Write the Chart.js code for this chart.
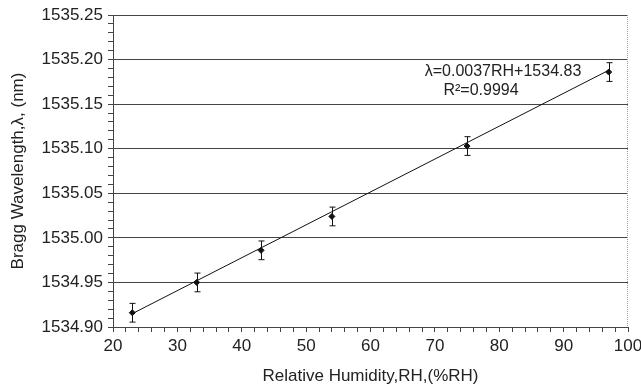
<!DOCTYPE html>
<html>
<head>
<meta charset="utf-8">
<script src="https://cdn.jsdelivr.net/npm/chart.js@4"></script>
<style>
  html, body { margin: 0; padding: 0; background: #fff; }
  #wrap { width: 641px; height: 387px; }
</style>
</head>
<body>
<div id="wrap"><canvas id="chart" width="641" height="387"></canvas></div>
<script>
// measured points
const humidity = [23, 33, 43, 54, 75, 97];
const wavelength = [1534.916, 1534.950, 1534.986, 1535.024, 1535.103, 1535.186];
const errorBar = [0.0105, 0.0105, 0.0105, 0.0105, 0.0105, 0.0105];

// linear fit line end points
const fitX = [23, 97];
const fitY = [1534.915, 1535.188];

const fitText = 'λ=0.0037RH+1534.83';
const r2Text = 'R²=0.9994';

const FONT = '"Liberation Sans", Arial, Helvetica, sans-serif';
const TEXT = '#222';

const isMajorY = v => Math.round(v * 100) % 5 === 0;
const isMajorX = v => Math.round(v) % 10 === 0;

// error bars, frame and the fit equation
const extras = {
    id: 'extras',
    afterDatasetsDraw(chart) {
        const ctx = chart.ctx;
        const xs = chart.scales.x, ys = chart.scales.y;
        const area = chart.chartArea;
        ctx.save();
        ctx.strokeStyle = '#111';
        ctx.lineWidth = 1;
        humidity.forEach((h, i) => {
            const px = Math.round(xs.getPixelForValue(h)) + 0.5;
            const top = ys.getPixelForValue(wavelength[i] + errorBar[i]);
            const bot = ys.getPixelForValue(wavelength[i] - errorBar[i]);
            ctx.beginPath();
            ctx.moveTo(px, top); ctx.lineTo(px, bot);
            ctx.moveTo(px - 3, top); ctx.lineTo(px + 3, top);
            ctx.moveTo(px - 3, bot); ctx.lineTo(px + 3, bot);
            ctx.stroke();
        });
        // right side of the frame
        ctx.strokeStyle = '#999';
        ctx.setLineDash([1, 1]);
        ctx.beginPath();
        ctx.moveTo(area.right - 0.5, area.top);
        ctx.lineTo(area.right - 0.5, area.bottom);
        ctx.stroke();
        ctx.setLineDash([]);

        ctx.fillStyle = TEXT;
        ctx.font = '16px ' + FONT;
        ctx.textAlign = 'center';
        ctx.textBaseline = 'middle';
        ctx.fillText(fitText, 503, 72);
        ctx.fillText(r2Text, 481, 91);
        ctx.restore();
    }
};

new Chart(document.getElementById('chart'), {
    type: 'scatter',
    data: {
        datasets: [
            {
                label: 'fit',
                data: fitX.map((x, i) => ({ x: x, y: fitY[i] })),
                showLine: true,
                borderColor: '#111',
                borderWidth: 1,
                pointRadius: 0
            },
            {
                label: 'measured',
                data: humidity.map((h, i) => ({ x: h, y: wavelength[i] })),
                showLine: false,
                pointStyle: 'rectRot',
                pointRadius: 3,
                backgroundColor: '#111',
                borderColor: '#111'
            }
        ]
    },
    options: {
        responsive: false,
        animation: false,
        layout: { padding: { left: 8, right: 13, top: 15, bottom: 0 } },
        plugins: {
            legend: { display: false },
            tooltip: { enabled: false }
        },
        scales: {
            x: {
                type: 'linear',
                min: 20,
                max: 100,
                afterFit: s => {
                    s.height = 60;
                    s.paddingLeft = 0;
                    s.paddingRight = 0;
                },
                border: { color: '#444', width: 1 },
                grid: {
                    color: 'transparent',
                    tickColor: '#444',
                    tickLength: 5,
                    drawOnChartArea: false
                },
                ticks: {
                    stepSize: 2,
                    autoSkip: false,
                    maxRotation: 0,
                    padding: 4,
                    color: TEXT,
                    font: { family: FONT, size: 17 },
                    callback: v => isMajorX(v) ? String(Math.round(v)) : ''
                },
                title: {
                    display: true,
                    text: 'Relative Humidity,RH,(%RH)',
                    color: TEXT,
                    font: { family: FONT, size: 17 },
                    padding: { top: 0, bottom: 0 }
                }
            },
            y: {
                type: 'linear',
                min: 1534.90,
                max: 1535.25,
                afterFit: s => {
                    s.width = 105;
                    s.paddingTop = 0;
                    s.paddingBottom = 0;
                },
                border: { color: '#444', width: 1 },
                grid: {
                    color: c => (c.tick && isMajorY(c.tick.value)) ? '#444' : 'transparent',
                    tickColor: '#444',
                    tickLength: 5
                },
                ticks: {
                    stepSize: 0.01,
                    autoSkip: false,
                    padding: 5,
                    color: TEXT,
                    font: { family: FONT, size: 17 },
                    callback: v => isMajorY(v) ? v.toFixed(2) : ''
                },
                title: {
                    display: true,
                    text: 'Bragg Wavelength,λ, (nm)',
                    color: TEXT,
                    font: { family: FONT, size: 17 },
                    padding: { top: 0, bottom: 0 }
                }
            }
        }
    },
    plugins: [extras]
});
</script>
</body>
</html>
